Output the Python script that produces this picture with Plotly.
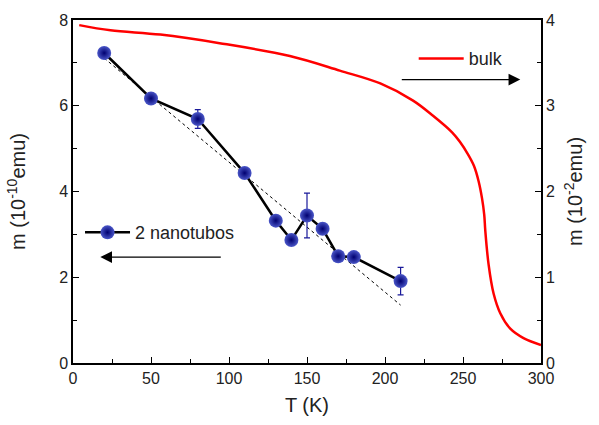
import plotly.graph_objects as go

# nanotube data (left axis, 10^-10 emu)
T_nano = [20, 50, 80, 110, 130, 140, 150, 160, 170, 180, 210]
m_nano = [7.23, 6.17, 5.69, 4.43, 3.32, 2.87, 3.44, 3.13, 2.49, 2.47, 1.91]
err_nano = [0.03, 0.03, 0.22, 0.03, 0.03, 0.08, 0.52, 0.05, 0.1, 0.03, 0.32]

# linear guide (dotted)
T_fit = [20, 210]
m_fit = [7.11, 1.35]

# bulk data (right axis, 10^-2 emu)
T_bulk = [4, 24, 56, 94, 139, 171, 197, 218, 231, 243, 248, 253, 257, 260, 262.2, 263.6,
          264.3, 266.4, 269.6, 273.9, 280.3, 288.8, 300]
m_bulk = [3.94, 3.88, 3.83, 3.73, 3.58, 3.41, 3.26, 3.06, 2.88, 2.69, 2.58, 2.44, 2.30, 2.12, 1.92, 1.73,
          1.54, 1.15, 0.81, 0.58, 0.40, 0.29, 0.21]

FONT = "Liberation Sans, Arial, sans-serif"

fig = go.Figure()
fig.add_trace(go.Scatter(x=T_fit, y=m_fit, mode="lines",
                         line=dict(color="black", width=1, dash="dot"),
                         showlegend=False, hoverinfo="skip"))
fig.add_trace(go.Scatter(x=T_nano, y=m_nano, mode="lines+markers", name="2 nanotubos",
                         line=dict(color="black", width=2.5),
                         marker=dict(size=14, color="#4a56c8",
                                     gradient=dict(type="radial", color="#000070"),
                                     line=dict(width=0)),
                         error_y=dict(type="data", array=err_nano, color="#1a1a9a",
                                      thickness=1.2, width=3),
                         legend="legend"))
fig.add_trace(go.Scatter(x=T_bulk, y=m_bulk, mode="lines", name="bulk", yaxis="y2",
                         line=dict(color="#ff0000", width=2.5, shape="spline", smoothing=1.0),
                         legend="legend2"))

# arrows indicating axes
fig.add_annotation(x=17.5, y=2.47, ax=95.7, ay=2.47, xref="x", yref="y", axref="x", ayref="y",
                   showarrow=True, arrowhead=2, arrowsize=1.8, arrowwidth=1.3, arrowcolor="black", text="")
fig.add_annotation(x=286.7, y=6.61, ax=209.8, ay=6.61, xref="x", yref="y", axref="x", ayref="y",
                   showarrow=True, arrowhead=2, arrowsize=1.8, arrowwidth=1.3, arrowcolor="black", text="")

axis_common = dict(showline=True, linecolor="black", linewidth=1.5, ticks="inside",
                   ticklen=6, tickwidth=1.3, tickcolor="black", showgrid=False, zeroline=False,
                   tickfont=dict(family=FONT, size=16, color="#222"))

fig.update_layout(
    width=599, height=425,
    margin=dict(l=73, r=58, t=20, b=58),
    plot_bgcolor="white", paper_bgcolor="white",
    font=dict(family=FONT, color="#222"),
    xaxis=dict(range=[0, 300], dtick=50, mirror=True,
               minor=dict(dtick=25, ticks="inside", ticklen=4, tickcolor="black"),
               title=dict(text="T (K)", font=dict(family=FONT, size=20), standoff=12),
               **axis_common),
    yaxis=dict(range=[0, 8], dtick=2,
               minor=dict(dtick=1, ticks="inside", ticklen=4, tickcolor="black"),
               title=dict(text="m (10<sup>-10</sup>emu)", font=dict(family=FONT, size=20), standoff=28),
               **axis_common),
    yaxis2=dict(range=[0, 4], dtick=1, overlaying="y", side="right",
                minor=dict(dtick=0.5, ticks="inside", ticklen=4, tickcolor="black"),
                title=dict(text="m (10<sup>-2</sup>emu)", font=dict(family=FONT, size=20), standoff=14),
                **axis_common),
    legend=dict(x=0.015, y=0.38, xanchor="left", yanchor="middle", bgcolor="rgba(0,0,0,0)",
                itemwidth=45, font=dict(family=FONT, size=18, color="#222")),
    legend2=dict(x=0.728, y=0.887, xanchor="left", yanchor="middle", bgcolor="rgba(0,0,0,0)",
                 itemwidth=45, font=dict(family=FONT, size=18, color="#222")),
)

fig.write_html("out.html")
